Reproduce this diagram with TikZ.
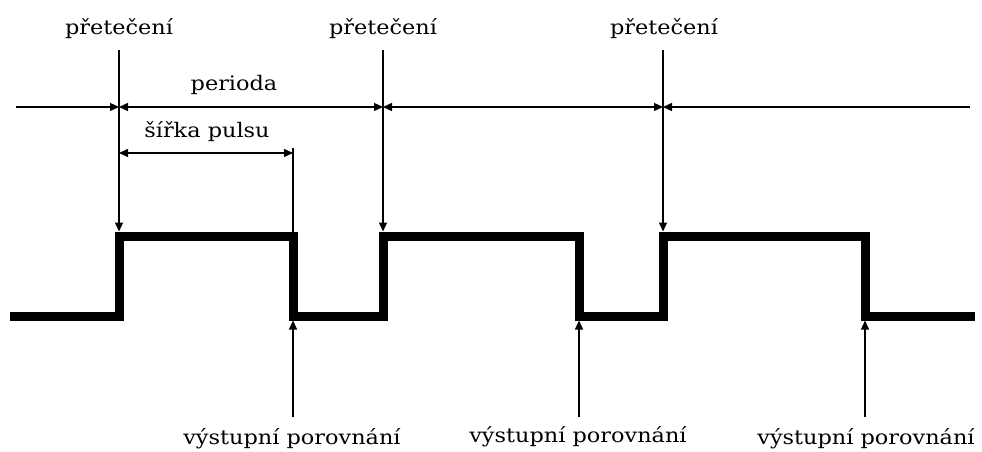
\documentclass[tikz,border=0pt]{standalone}
\usepackage{fontspec}
\setmainfont[FakeStretch=1.12]{DejaVu Serif}
\usetikzlibrary{arrows.meta}
\begin{document}
\begin{tikzpicture}[x=1pt,y=-1pt,
  thin line/.style={line width=1.4pt},
  tip/.style={-{Triangle[length=9pt,width=8pt]}},
  bothtip/.style={{Triangle[length=9pt,width=8pt]}-{Triangle[length=9pt,width=8pt]}},
  lbl/.style={inner sep=0pt,font=\fontsize{20}{24}\selectfont},
  wave/.style={line width=9pt,line join=miter,line cap=butt}]
\useasboundingbox (0,0) rectangle (982,452);
% labels
\node[lbl] (p1) at (119,29) {přetečení};
\node[lbl] (p2) at (383,29) {přetečení};
\node[lbl] (p3) at (664,29) {přetečení};
\node[lbl] (per) at (234,85) {perioda};
\node[lbl] (sir) at (207,132) {šířka pulsu};
\node[lbl] (v1) at (292,439) {výstupní porovnání};
\node[lbl] (v2) at (578,437) {výstupní porovnání};
\node[lbl] (v3) at (866,439) {výstupní porovnání};
% coordinates
\coordinate (t1) at (119,50);
\coordinate (t2) at (383,50);
\coordinate (t3) at (663,50);
\coordinate (h1) at (119,231.5);
\coordinate (h2) at (383,231.5);
\coordinate (h3) at (663,231.5);
\coordinate (pl) at (16,107);
\coordinate (pa) at (119,107);
\coordinate (pb) at (383,107);
\coordinate (pc) at (663,107);
\coordinate (pr) at (970,107);
\coordinate (sa) at (119,153);
\coordinate (sb) at (293,153);
\coordinate (ct) at (293,148);
\coordinate (ch) at (293,232);
\coordinate (b1) at (293,417);
\coordinate (b2) at (579,417);
\coordinate (b3) at (865,417);
\coordinate (l1) at (293,320.5);
\coordinate (l2) at (579,320.5);
\coordinate (l3) at (865,320.5);
% overflow arrows
\draw[thin line,tip] (t1) -- (h1);
\draw[thin line,tip] (t2) -- (h2);
\draw[thin line,tip] (t3) -- (h3);
% period line
\draw[thin line,tip] (pl) -- (pa);
\draw[thin line,bothtip] (pa) -- (pb);
\draw[thin line,bothtip] (pb) -- (pc);
\draw[thin line,{Triangle[length=9pt,width=8pt]}-] (pc) -- (pr);
% pulse width
\draw[thin line,bothtip] (sa) -- (sb);
\draw[thin line] (ct) -- (ch);
% compare arrows
\draw[thin line,tip] (b1) -- (l1);
\draw[thin line,tip] (b2) -- (l2);
\draw[thin line,tip] (b3) -- (l3);
% waveform
\draw[wave] (10,316) -- (119,316) -- (119,236) -- (293,236) -- (293,316)
  -- (383,316) -- (383,236) -- (579,236) -- (579,316) -- (663,316)
  -- (663,236) -- (865,236) -- (865,316) -- (975,316);
\end{tikzpicture}
\end{document}
